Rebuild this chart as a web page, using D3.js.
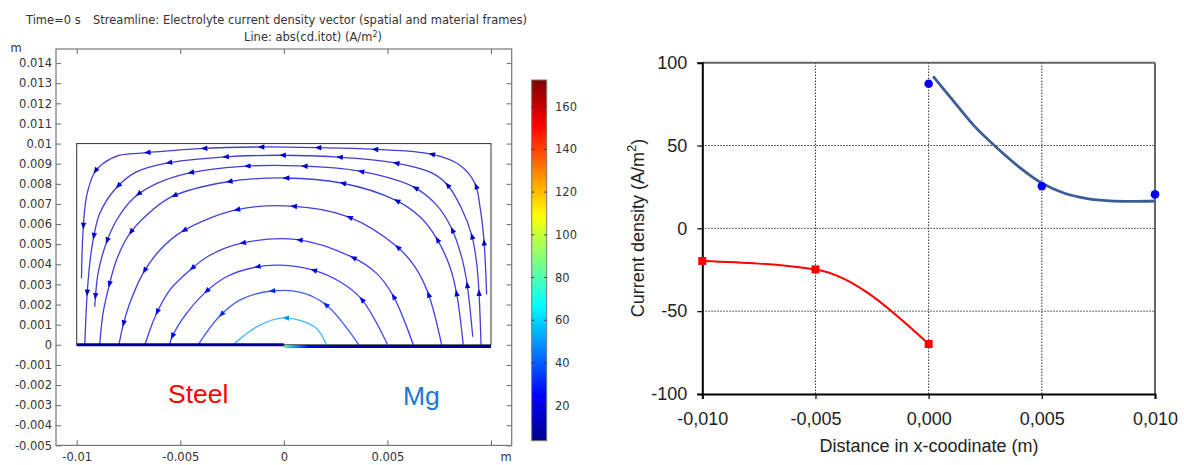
<!DOCTYPE html>
<meta charset="UTF-8">
<style>
body { margin: 0; background: #fff; }
svg text { font-family: "DejaVu Sans", sans-serif; fill: #333; }
.xl text, .xl .lab { font-family: "Liberation Sans", Arial, sans-serif; fill: #222; }
</style>
<body>
<div class="chart"></div>
<script src="https://d3js.org/d3.v7.min.js"></script>
<script>
// ---------- left panel: streamlines (m), ordered Mg -> steel ----------
var lineA = [[0.00979,0.00250],[0.00966,0.00520],[0.00947,0.00685],[0.00923,0.00801],[0.00850,0.00892],[0.00714,0.00947],[0.00431,0.00972],[0.00158,0.00980],[-0.00124,0.00983],[-0.00406,0.00975],[-0.00687,0.00953],[-0.00792,0.00942],[-0.00873,0.00901],[-0.00915,0.00855],[-0.00953,0.00735],[-0.00970,0.00553],[-0.00977,0.00330]];
var lineB = [[0.00952,0],[0.00942,0.00263],[0.00931,0.00404],[0.00907,0.00545],[0.00858,0.00677],[0.00791,0.00793],[0.00714,0.00854],[0.00536,0.00904],[0.00262,0.00933],[-0.00019,0.00942],[-0.00296,0.00933],[-0.00575,0.00901],[-0.00712,0.00859],[-0.00816,0.00772],[-0.00889,0.00652],[-0.00921,0.00520],[-0.00937,0.00404],[-0.00950,0.00247],[-0.00961,0]];
var lineC = [[0.00912,0.00040],[0.00883,0.00313],[0.00858,0.00437],[0.00810,0.00578],[0.00738,0.00694],[0.00625,0.00785],[0.00359,0.00864],[0.00077,0.00889],[-0.00197,0.00887],[-0.00470,0.00851],[-0.00615,0.00801],[-0.00725,0.00730],[-0.00808,0.00619],[-0.00861,0.00495],[-0.00897,0.00355],[-0.00913,0.00189]];
var lineD = [[0.00866,0],[0.00834,0.00255],[0.00802,0.00387],[0.00738,0.00528],[0.00657,0.00636],[0.00541,0.00718],[0.00279,0.00804],[0,0.00829],[-0.00277,0.00809],[-0.00543,0.00735],[-0.00663,0.00644],[-0.00749,0.00545],[-0.00808,0.00421],[-0.00845,0.00288],[-0.00873,0.00156],[-0.00889,0]];
var lineE = [[0.00762,0],[0.00697,0.00255],[0.00633,0.00387],[0.00544,0.00490],[0.00311,0.00636],[0.00037,0.00689],[-0.00237,0.00669],[-0.00494,0.00561],[-0.00599,0.00470],[-0.00680,0.00355],[-0.00744,0.00206],[-0.00776,0.00098],[-0.00796,0]];
var lineF = [[0.00625,0],[0.00528,0.00243],[0.00448,0.00355],[0.00327,0.00437],[0.00064,0.00523],[-0.00213,0.00503],[-0.00357,0.00445],[-0.00454,0.00371],[-0.00551,0.00272],[-0.00618,0.00148],[-0.00671,0]];
var lineG = [[0.00501,0],[0.00375,0.00227],[0.00271,0.00313],[0.00142,0.00371],[-0.00019,0.00396],[-0.00132,0.00387],[-0.00277,0.00338],[-0.00382,0.00258],[-0.00470,0.00156],[-0.00543,0.00032],[-0.00551,0]];
var lineH = [[0.00362,0],[0.00201,0.00201],[0.00077,0.00262],[-0.00068,0.00266],[-0.00213,0.00222],[-0.00313,0.00139],[-0.00414,0]];
var lineI = [[0.00206,0],[0.00150,0.00088],[-0.00003,0.00134],[-0.00132,0.00089],[-0.00245,0]];
var streamLines = [lineA, lineB, lineC, lineD, lineE, lineF, lineG, lineH, lineI];
var streamJ = [13, 14, 15, 16, 18, 21, 25, 31, 50];     // |J| (A/m2) colouring each line

var mgEdgeX = [0, 0.0004, 0.0012, 0.0025, 0.01];        // Mg electrode colouring
var mgEdgeJ = [85, 55, 25, 10, 5];
var steelEdgeJ = 4;
var colorRange = [3.6, 172.5];
var barTicks = [20, 40, 60, 80, 100, 120, 140, 160];
var leftYTicks = [-0.005,-0.004,-0.003,-0.002,-0.001,0,0.001,0.002,0.003,0.004,0.005,0.006,0.007,0.008,0.009,0.01,0.011,0.012,0.013,0.014];
var leftXTicks = [-0.01, -0.005, 0, 0.005, 0.01];

// ---------- right panel ----------
var steelX = [-0.010, -0.005, 0.000];
var steelJ = [-19.7, -24.8, -69.8];
var mgX = [0.000, 0.005, 0.010];
var mgJ = [87.3, 25.5, 20.5];
var mgFitX = [0.0002, 0.001, 0.002, 0.003, 0.004, 0.005, 0.006, 0.007, 0.008, 0.009, 0.010];
var mgFitJ = [91.7, 78.5, 62.0, 48.8, 37.0, 27.3, 21.2, 18.0, 16.6, 16.3, 16.5];
var xTicks = [-0.010, -0.005, 0.000, 0.005, 0.010];
var yTicks = [-100, -50, 0, 50, 100];

var svg = d3.select(".chart").append("svg").attr("width", 1184).attr("height", 465);

var jet = d3.scaleLinear().domain([0, .125, .375, .625, .875, 1])
  .range(["#00008f", "#0000ff", "#00ffff", "#ffff00", "#ff0000", "#800000"]);
function jColor(v) { return jet((v - colorRange[0]) / (colorRange[1] - colorRange[0])); }

// ================= left =================
var x = d3.scaleLinear().domain([-0.011, 0.011]).range([56, 511.7]);
var y = d3.scaleLinear().domain([-0.005, 0.0147]).range([445.4, 49]);
var L = svg.append("g");

L.append("text").attr("x", 26).attr("y", 24).style("font-size", "11.5px").text("Time=0 s");
L.append("text").attr("x", 93).attr("y", 24).style("font-size", "11.5px")
  .text("Streamline: Electrolyte current density vector (spatial and material frames)");
var t2 = L.append("text").attr("x", 313).attr("y", 41).attr("text-anchor", "middle").style("font-size", "11.5px");
t2.append("tspan").text("Line: abs(cd.itot) (A/m");
t2.append("tspan").attr("dy", -4).style("font-size", "8px").text("2");
t2.append("tspan").attr("dy", 4).text(")");
L.append("text").attr("x", 16).attr("y", 52).attr("text-anchor", "middle").style("font-size", "11.5px").text("m");
L.append("text").attr("x", 506).attr("y", 461).attr("text-anchor", "middle").style("font-size", "11.5px").text("m");

function fmtM(d) { return String(+d.toFixed(3)); }
var ax = L.append("g").attr("transform", "translate(" + x.range()[0] + ",0)")
  .call(d3.axisLeft(y).tickValues(leftYTicks).tickSizeInner(-5).tickSizeOuter(0).tickPadding(4).tickFormat(fmtM));
var ax2 = L.append("g").attr("transform", "translate(" + x.range()[1] + ",0)")
  .call(d3.axisRight(y).tickValues(leftYTicks).tickSizeInner(-5).tickSizeOuter(0).tickFormat(""));
var ax3 = L.append("g").attr("transform", "translate(0," + y.range()[0] + ")")
  .call(d3.axisBottom(x).tickValues(leftXTicks).tickSizeInner(-5).tickSizeOuter(0).tickPadding(7.5)
    .tickFormat(function (d) { return d === 0.01 ? "" : fmtM(d); }));
var ax4 = L.append("g").attr("transform", "translate(0," + y.range()[1] + ")")
  .call(d3.axisTop(x).tickValues(leftXTicks).tickSizeInner(-5).tickSizeOuter(0).tickFormat(""));
[ax, ax2, ax3, ax4].forEach(function (a) {
  a.select(".domain").remove();
  a.selectAll("line").attr("stroke", "#666");
  a.selectAll("text").style("font-size", "11.5px").style("font-family", "DejaVu Sans").attr("fill", "#333");
});
L.append("rect").attr("x", x.range()[0]).attr("y", y.range()[1])
  .attr("width", x.range()[1] - x.range()[0]).attr("height", y.range()[0] - y.range()[1])
  .attr("fill", "none").attr("stroke", "#777").attr("stroke-width", 1.2);

// geometry outline
L.append("rect").attr("x", x(-0.01)).attr("y", y(0.01))
  .attr("width", x(0.01) - x(-0.01)).attr("height", y(0) - y(0.01))
  .attr("fill", "none").attr("stroke", "#333").attr("stroke-width", 1);

// streamlines
var sl = d3.line().x(function (d) { return x(d[0]); }).y(function (d) { return y(d[1]); })
  .curve(d3.curveCatmullRom.alpha(0.5));
streamLines.forEach(function (pts, i) {
  var c = jColor(streamJ[i]);
  var p = L.append("path").attr("d", sl(pts)).attr("fill", "none")
    .attr("stroke", c).attr("stroke-opacity", 0.75).attr("stroke-width", 1.3);
  var node = p.node(), len = node.getTotalLength();
  for (var s = 52; s < len - 8; s += 57) {
    var a = node.getPointAtLength(s), b = node.getPointAtLength(Math.min(len, s + 1));
    var ang = Math.atan2(b.y - a.y, b.x - a.x) * 180 / Math.PI;
    L.append("path").attr("d", "M3.5,0L-3,-2.7L-3,2.7Z")
      .attr("transform", "translate(" + a.x + "," + a.y + ") rotate(" + ang + ")")
      .attr("fill", c);
  }
});

// electrodes
L.append("line").attr("x1", x(-0.01)).attr("x2", x(0)).attr("y1", y(0)).attr("y2", y(0))
  .attr("stroke", jColor(steelEdgeJ)).attr("stroke-width", 3);
var grad = svg.append("defs").append("linearGradient").attr("id", "mgEdge")
  .attr("gradientUnits", "userSpaceOnUse").attr("x1", x(0)).attr("x2", x(0.01)).attr("y1", 0).attr("y2", 0);
mgEdgeX.forEach(function (v, i) {
  grad.append("stop").attr("offset", (v / 0.01)).attr("stop-color", jColor(mgEdgeJ[i]));
});
L.append("line").attr("x1", x(0)).attr("x2", x(0.01)).attr("y1", y(-0.00008)).attr("y2", y(-0.00008))
  .attr("stroke", "url(#mgEdge)").attr("stroke-width", 3);
L.append("line").attr("x1", x(0)).attr("x2", x(0)).attr("y1", y(0)).attr("y2", y(-0.00008))
  .attr("stroke", "#222").attr("stroke-width", 1);

L.append("text").attr("x", 168).attr("y", 403).style("font-family", "Liberation Sans")
  .style("font-size", "26.5px").style("fill", "#ff0000").text("Steel");
L.append("text").attr("x", 403).attr("y", 405).style("font-family", "Liberation Sans")
  .style("font-size", "26.5px").style("fill", "#1a7ad2").text("Mg");

// colour bar
var cb = d3.scaleLinear().domain(colorRange).range([440.7, 80]);
var cg = svg.select("defs").append("linearGradient").attr("id", "jet")
  .attr("x1", 0).attr("x2", 0).attr("y1", 1).attr("y2", 0);
d3.range(0, 1.0001, 0.025).forEach(function (f) {
  cg.append("stop").attr("offset", f).attr("stop-color", jet(f));
});
L.append("rect").attr("x", 531.7).attr("y", cb.range()[1]).attr("width", 15)
  .attr("height", cb.range()[0] - cb.range()[1]).attr("fill", "url(#jet)")
  .attr("stroke", "#777").attr("stroke-width", 1);
barTicks.forEach(function (v) {
  L.append("line").attr("x1", 531.7).attr("x2", 534.2).attr("y1", cb(v)).attr("y2", cb(v)).attr("stroke", "#333");
  L.append("line").attr("x1", 544.2).attr("x2", 546.7).attr("y1", cb(v)).attr("y2", cb(v)).attr("stroke", "#333");
  L.append("text").attr("x", 555).attr("y", cb(v)).attr("dy", "0.35em").style("font-size", "11.5px").text(v);
});

// ================= right =================
var x2 = d3.scaleLinear().domain([-0.01, 0.01]).range([702.3, 1155]);
var y2 = d3.scaleLinear().domain([-100, 100]).range([394, 62.7]);
var R = svg.append("g").attr("class", "xl");

R.append("g").selectAll("line").data(xTicks.slice(1, -1)).join("line")
  .attr("x1", function (d) { return x2(d); }).attr("x2", function (d) { return x2(d); })
  .attr("y1", y2(-100)).attr("y2", y2(100))
  .attr("stroke", "#333").attr("stroke-width", 1).attr("stroke-dasharray", "1.5,1.5");
R.append("g").selectAll("line").data(yTicks.slice(1, -1)).join("line")
  .attr("x1", x2(-0.01)).attr("x2", x2(0.01))
  .attr("y1", function (d) { return y2(d); }).attr("y2", function (d) { return y2(d); })
  .attr("stroke", "#333").attr("stroke-width", 1).attr("stroke-dasharray", "1.5,1.5");

R.append("line").attr("x1", x2(-0.01)).attr("x2", x2(0.01)).attr("y1", y2(100)).attr("y2", y2(100))
  .attr("stroke", "#666").attr("stroke-width", 2);
R.append("line").attr("x1", x2(0.01)).attr("x2", x2(0.01)).attr("y1", y2(100)).attr("y2", y2(-100))
  .attr("stroke", "#666").attr("stroke-width", 2);

var ry = R.append("g").attr("transform", "translate(" + x2(-0.01) + ",0)")
  .call(d3.axisLeft(y2).tickValues(yTicks).tickSize(5).tickPadding(10).tickFormat(function (d) { return String(d); }));
var rx = R.append("g").attr("transform", "translate(0," + y2(-100) + ")")
  .call(d3.axisBottom(x2).tickValues(xTicks).tickSize(5).tickPadding(13.5)
    .tickFormat(function (d) { return d.toFixed(3).replace(".", ","); }));
[ry, rx].forEach(function (a) {
  a.select(".domain").attr("stroke", "#000").attr("stroke-width", 2);
  a.selectAll("line").attr("stroke", "#000").attr("stroke-width", 1.2);
  a.selectAll("text").style("font-family", "Liberation Sans").style("font-size", "18px").attr("fill", "#222");
});

var yt = R.append("text").attr("class", "lab").attr("transform", "translate(643.5,228) rotate(-90)")
  .attr("text-anchor", "middle").style("font-size", "18px");
yt.append("tspan").text("Current density (A/m");
yt.append("tspan").attr("dy", -8).style("font-size", "13px").text("2");
yt.append("tspan").attr("dy", 8).text(")");
R.append("text").attr("class", "lab").attr("x", 929).attr("y", 452).attr("text-anchor", "middle")
  .style("font-size", "18px").text("Distance in x-coodinate (m)");

// steel series
var steel = steelX.map(function (v, i) { return [v, steelJ[i]]; });
R.append("path").attr("d", d3.line().x(function (d) { return x2(d[0]); }).y(function (d) { return y2(d[1]); })
  .curve(d3.curveMonotoneX)(steel))
  .attr("fill", "none").attr("stroke", "#ff0000").attr("stroke-width", 2);
R.append("g").selectAll("rect").data(steel).join("rect")
  .attr("x", function (d) { return x2(d[0]) - 4; }).attr("y", function (d) { return y2(d[1]) - 4; })
  .attr("width", 8).attr("height", 8).attr("fill", "#ff0000");

// Mg series
var fit = mgFitX.map(function (v, i) { return [v, mgFitJ[i]]; });
R.append("path").attr("d", d3.line().x(function (d) { return x2(d[0]); }).y(function (d) { return y2(d[1]); })
  .curve(d3.curveCatmullRom.alpha(0.5))(fit))
  .attr("fill", "none").attr("stroke", "#3c5d95").attr("stroke-width", 2.8);
R.append("g").selectAll("circle").data(mgX).join("circle")
  .attr("cx", function (d) { return x2(d); }).attr("cy", function (d, i) { return y2(mgJ[i]); })
  .attr("r", 4.3).attr("fill", "#0000ff");
</script>
</body>
